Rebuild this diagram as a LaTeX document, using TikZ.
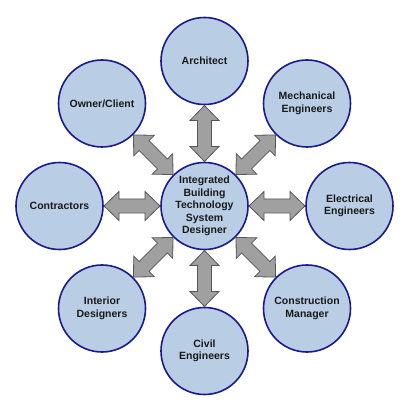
\documentclass[tikz,border=0pt]{standalone}
\usepackage{fontspec}
\setmainfont{Liberation Sans}
\usetikzlibrary{calc}
\definecolor{cfill}{HTML}{B9CDE5}
\definecolor{cdraw}{HTML}{1A1A8C}
\definecolor{afill}{HTML}{A0A0A0}
\definecolor{adraw}{HTML}{555555}
\tikzset{
  role/.style={circle, draw=cdraw, fill=cfill, line width=1.6pt, minimum size=87pt,
    inner sep=0pt, align=center, font=\fontsize{10.5pt}{12.5pt}\selectfont\bfseries, text=black!90},
  link/.style={fill=afill, draw=adraw, line width=0.8pt, line join=miter}
}
\newcommand\linkarrow[2]{%
  \path ($(#1.center)!44.5pt!(#2.center)$) coordinate (ta)
        ($(#1.center)!59.5pt!(#2.center)$) coordinate (ha)
        ($(#1.center)!85.5pt!(#2.center)$) coordinate (hb)
        ($(#1.center)!100.5pt!(#2.center)$) coordinate (tb);
  \draw[link] (ta) -- ($(ha)!14.5pt!90:(#2.center)$) -- ($(ha)!7pt!90:(#2.center)$)
    -- ($(hb)!7pt!90:(#2.center)$) -- ($(hb)!14.5pt!90:(#2.center)$) -- (tb)
    -- ($(hb)!14.5pt!-90:(#2.center)$) -- ($(hb)!7pt!-90:(#2.center)$)
    -- ($(ha)!7pt!-90:(#2.center)$) -- ($(ha)!14.5pt!-90:(#2.center)$) -- cycle;}
\begin{document}
\begin{tikzpicture}[x=1pt,y=1pt]
\fill[white] (0,0) rectangle (409,407);
\useasboundingbox (0,0) rectangle (409,407);
\node[role] (c) at (204.5,201) {Integrated\\Building\\Technology\\System\\Designer};
\node[role] (arch) at (204.5,346) {Architect};
\node[role] (mech) at (307,303.5) {Mechanical\\Engineers};
\node[role] (elec) at (349.5,201) {Electrical\\Engineers};
\node[role] (cons) at (307,98.5) {Construction\\Manager};
\node[role] (civil) at (204.5,56) {Civil\\Engineers};
\node[role] (inter) at (102,98.5) {Interior\\Designers};
\node[role] (contr) at (59.5,201) {Contractors};
\node[role] (owner) at (102,303.5) {Owner/Client};
\linkarrow{c}{arch}
\linkarrow{c}{mech}
\linkarrow{c}{elec}
\linkarrow{c}{cons}
\linkarrow{c}{civil}
\linkarrow{c}{inter}
\linkarrow{c}{contr}
\linkarrow{c}{owner}
\end{tikzpicture}
\end{document}
